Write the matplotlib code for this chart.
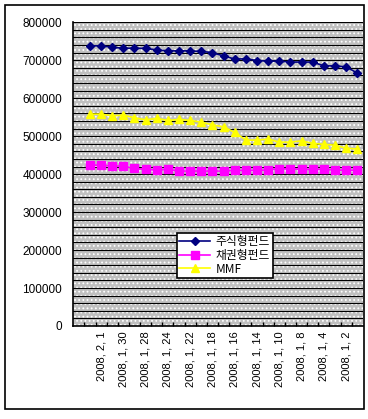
import matplotlib
matplotlib.use('Agg')
import matplotlib.pyplot as plt
from matplotlib.patches import Rectangle
from matplotlib.ticker import MultipleLocator

plt.rcParams['font.family'] = ['Liberation Sans', 'Noto Sans CJK KR', 'DejaVu Sans']
plt.rcParams['hatch.color'] = 'white'
plt.rcParams['hatch.linewidth'] = 0.8

# categories (newest first); first slot is empty in the source sheet
dates = ['', '2008, 2, 4', '2008, 2, 1', '2008, 1, 31', '2008, 1, 30', '2008, 1, 29',
         '2008, 1, 28', '2008, 1, 25', '2008, 1, 24', '2008, 1, 23', '2008, 1, 22',
         '2008, 1, 21', '2008, 1, 18', '2008, 1, 17', '2008, 1, 16', '2008, 1, 15',
         '2008, 1, 14', '2008, 1, 11', '2008, 1, 10', '2008, 1, 9', '2008, 1, 8',
         '2008, 1, 7', '2008, 1, 4', '2008, 1, 3', '2008, 1, 2', '2007, 12, 28']

stock = [None, 737600, 738000, 734000, 731500, 731500, 731000, 727000, 724500,
         724500, 724500, 723000, 720000, 711000, 703000, 703500, 699000, 697500,
         697500, 695000, 695000, 695000, 685000, 685000, 682500, 666000]
bond = [None, 423700, 423700, 421100, 421100, 415000, 412400, 410500, 412400,
        408000, 408000, 408000, 408000, 408000, 409700, 409700, 409700, 411000,
        414000, 414000, 412400, 412400, 412400, 410500, 410500, 409700]
mmf = [None, 557900, 557900, 553400, 555300, 548200, 542900, 546600, 541300,
       544000, 541300, 536800, 529700, 524500, 509700, 489500, 489500, 492100,
       484200, 484200, 487600, 480800, 478200, 476300, 468400, 465800]

series_names = ['주식형펀드', '채권형펀드', 'MMF']

fig = plt.figure(figsize=(3.68, 4.19), dpi=100)
fig.patches.append(Rectangle((0.0136, 0.024), 0.9755, 0.964, transform=fig.transFigure,
                             fill=False, edgecolor='black', linewidth=1.2))
ax = fig.add_axes([0.199, 0.222, 0.787, 0.725])

x = list(range(len(dates)))
ax.set_facecolor('#c0c0c0')
ax.add_patch(Rectangle((0, 0), 1, 1, transform=ax.transAxes, facecolor='none',
                       hatch='....', edgecolor='white', linewidth=0, zorder=0))

for v in range(0, 800001, 20000):
    ax.axhline(v, color='black', linewidth=0.8, zorder=1)

ax.plot(x, stock, color='#000080', marker='D', markersize=4.5, linewidth=1.2,
        label=series_names[0], zorder=3)
ax.plot(x, bond, color='#ff00ff', marker='s', markersize=5.5, linewidth=1.2,
        label=series_names[1], zorder=3)
ax.plot(x, mmf, color='#ffff00', marker='^', markersize=6, linewidth=1.2,
        label=series_names[2], zorder=3)

ax.set_xlim(-0.5, len(dates) - 0.5)
ax.set_ylim(0, 800000)
ax.yaxis.set_major_locator(MultipleLocator(100000))
ax.tick_params(axis='y', length=0, labelsize=8.5, pad=8)

ax.set_xticks([i + 0.5 for i in range(len(dates) - 1)], minor=True)
ax.set_xticks(x[::2])
ax.set_xticklabels(dates[::2], rotation=90, fontsize=8)
ax.tick_params(axis='x', which='major', length=0, pad=4)
ax.tick_params(axis='x', which='minor', direction='in', length=3, width=1, color='black')

for s in ['top', 'right']:
    ax.spines[s].set_visible(False)
for s in ['left', 'bottom']:
    ax.spines[s].set_linewidth(1.2)

leg = ax.legend(loc='lower left', bbox_to_anchor=(0.358, 0.158), borderaxespad=0,
                frameon=True, fancybox=False, shadow=False, handlelength=2.6,
                borderpad=0.2, labelspacing=0.05, handletextpad=0.5,
                prop={'family': ['Noto Sans CJK KR', 'DejaVu Sans'], 'size': 8.5})
leg.get_frame().set_edgecolor('black')
leg.get_frame().set_linewidth(1.2)
leg.get_frame().set_alpha(1)

fig.savefig('out.png', dpi=100)
